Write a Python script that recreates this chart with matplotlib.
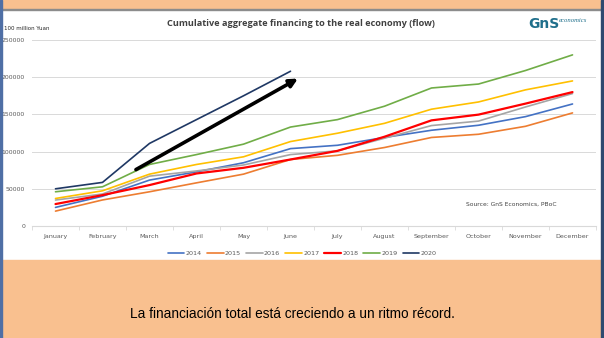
import numpy as np
import matplotlib
matplotlib.use('Agg')
import matplotlib.pyplot as plt
from matplotlib.patches import Rectangle

months = ['January', 'February', 'March', 'April', 'May', 'June', 'July',
          'August', 'September', 'October', 'November', 'December']

y2014 = [25000, 40000, 61700, 72800, 85000, 104000, 108500, 119000, 128700, 135400, 147000, 164000]
y2015 = [20000, 35000, 46000, 58000, 69700, 89400, 95000, 105500, 119000, 123300, 134000, 152000]
y2016 = [34900, 43000, 67000, 74000, 82000, 96000, 101000, 118000, 135000, 141000, 160000, 178000]
y2017 = [37000, 47300, 69700, 82700, 93000, 113500, 124700, 138000, 157000, 166700, 183000, 195000]
y2018 = [29500, 41500, 55000, 70600, 78200, 89400, 101000, 120000, 142000, 149700, 164500, 180000]
y2019 = [46000, 52700, 82700, 96000, 110000, 133000, 143000, 161000, 185500, 190800, 209000, 230000]
y2020 = [50000, 58600, 111000, 143000, 175000, 208000]

series = [('2014', y2014, '#4472C4', 1.2),
          ('2015', y2015, '#ED7D31', 1.2),
          ('2016', y2016, '#A5A5A5', 1.2),
          ('2017', y2017, '#FFC000', 1.2),
          ('2018', y2018, '#FF0000', 1.6),
          ('2019', y2019, '#70AD47', 1.2),
          ('2020', y2020, '#1F3864', 1.2)]

W, H = 604, 338
fig = plt.figure(figsize=(W / 100, H / 100), dpi=100)
fig.patch.set_facecolor('white')

# frame: orange bands and blue edges
orange = '#F9C08F'
fig.patches.append(Rectangle((0, 1 - 9 / H), 1, 9 / H, transform=fig.transFigure, color=orange, zorder=0))
fig.patches.append(Rectangle((0, 1 - 10 / H), 1, 1 / H, transform=fig.transFigure, color='#8C8C8C', zorder=0))
fig.patches.append(Rectangle((0, 0), 1, (H - 260) / H, transform=fig.transFigure, color=orange, zorder=0))
fig.patches.append(Rectangle((0, 0), 2 / W, 1, transform=fig.transFigure, color='#4F6FA5', zorder=1))
fig.patches.append(Rectangle((1 - 3 / W, 0), 3 / W, 1, transform=fig.transFigure, color='#2E4A70', zorder=1))

ax = fig.add_axes([32 / W, (H - 226) / H, 564 / W, 186 / H])
ax.set_facecolor('none')
x = np.arange(len(months))
for name, vals, col, lw in series:
    ax.plot(x[:len(vals)], vals, color=col, lw=lw, label=name, solid_capstyle='round')

ax.set_xlim(-0.5, 11.5)
ax.set_ylim(0, 250000)
ax.set_yticks(np.arange(0, 250001, 50000))
ax.set_xticks(x)
ax.set_xticklabels(months)
ax.set_xticks(np.arange(-0.5, 12, 1), minor=True)
ax.tick_params(axis='x', which='major', length=0, labelsize=4.6, colors='#595959', pad=6)
ax.tick_params(axis='x', which='minor', length=3, color='#D9D9D9', direction='out')
ax.tick_params(axis='y', length=0, labelsize=4.4, colors='#595959', pad=5)
ax.grid(axis='y', color='#D9D9D9', lw=0.7)
for s in ['top', 'right', 'left']:
    ax.spines[s].set_visible(False)
ax.spines['bottom'].set_color('#D9D9D9')
ax.set_axisbelow(True)

# black arrow
ax.annotate('', xy=(5.21, 200000), xytext=(1.66, 74000),
            arrowprops=dict(arrowstyle='-|>', color='black', lw=2.6, mutation_scale=12))

ax.text(0.93, 0.115, 'Source: GnS Economics, PBoC', transform=ax.transAxes,
        fontsize=4.3, color='#404040', ha='right', va='center')

leg = ax.legend(loc='upper center', bbox_to_anchor=(0.479, -0.1), ncol=7, frameon=False,
                fontsize=4.6, handlelength=2.6, handletextpad=0.2, columnspacing=0.8)
for t in leg.get_texts():
    t.set_color('#595959')

fig.text(301 / W, 1 - 23 / H, 'Cumulative aggregate financing to the real economy (flow)',
         fontsize=6.6, color='#404040', fontweight='bold', ha='center', va='center',
         family='Open Sans')
fig.text(4 / W, 1 - 28 / H, '100 million Yuan', fontsize=4, color='#262626', va='center')

fig.text(528 / W, 1 - 24 / H, 'GnS', fontsize=10, color='#1F6F8B', fontweight='bold',
         va='center', ha='left')
fig.text(559 / W, 1 - 20 / H, 'economics', fontsize=4.8, color='#1F6F8B', style='italic',
         va='center', ha='left', family='Liberation Serif')

fig.text(292 / W, 1 - 314 / H, 'La financiación total está creciendo a un ritmo récord.',
         fontsize=9.8, color='black', ha='center', va='center', family='Liberation Sans')

fig.savefig('out.png', dpi=100)
